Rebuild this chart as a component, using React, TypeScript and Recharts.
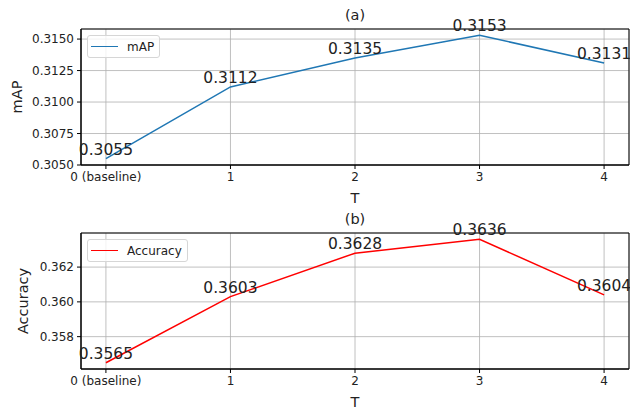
import { CartesianGrid, Label, LabelList, Legend, Line, LineChart, ReferenceArea, XAxis, YAxis } from 'recharts';

const categories = ['0 (baseline)', '1', '2', '3', '4'];
const mapValues = [0.3055, 0.3112, 0.3135, 0.3153, 0.3131];
const accuracyValues = [0.3565, 0.3603, 0.3628, 0.3636, 0.3604];
const mapTicks = [0.305, 0.3075, 0.31, 0.3125, 0.315];
const accuracyTicks = [0.358, 0.36, 0.362];
const mapDomain: [number, number] = [0.305, 0.3158];
const accuracyDomain: [number, number] = [0.35614, 0.36396];

const FONT = 'DejaVu Sans, sans-serif';
const xTicks = categories.map((_, i) => i);
const xDomain: [number, number] = [-0.2, 4.2];

interface PanelProps {
  title: string;
  yLabel: string;
  yLabelX: number;
  name: string;
  values: number[];
  ticks: number[];
  domain: [number, number];
  decimals: number;
  color: string;
  height: number;
  marginTop: number;
}

function Panel({ title, yLabel, yLabelX, name, values, ticks, domain, decimals, color, height, marginTop }: PanelProps) {
  const data = values.map((v, i) => ({ t: i, value: v }));
  return (
    <LineChart
      width={630}
      height={height}
      data={data}
      margin={{ top: marginTop, right: 1, bottom: 0, left: 0 }}
      style={{ fontFamily: FONT }}
    >
      <CartesianGrid stroke="#b0b0b0" strokeWidth={0.8} />
      <XAxis
        dataKey="t"
        type="number"
        domain={xDomain}
        ticks={xTicks}
        interval={0}
        tickFormatter={(i: number) => categories[i]}
        height={40}
        tickSize={4}
        tickMargin={3}
        axisLine={{ stroke: '#000' }}
        tickLine={{ stroke: '#000' }}
        tick={{ fontSize: 12, fill: '#222' }}
      >
        <Label
          content={({ viewBox }: any) => (
            <text
              x={viewBox.x + viewBox.width / 2}
              y={viewBox.y + 38}
              textAnchor="middle"
              fontSize={14.5}
              fill="#222"
            >
              T
            </text>
          )}
        />
      </XAxis>
      <YAxis
        type="number"
        domain={domain}
        ticks={ticks}
        interval={0}
        width={81}
        tickFormatter={(v: number) => v.toFixed(decimals)}
        tickSize={4}
        tickMargin={3}
        axisLine={{ stroke: '#000' }}
        tickLine={{ stroke: '#000' }}
        tick={{ fontSize: 12, fill: '#222' }}
      >
        <Label
          content={({ viewBox }: any) => {
            const cy = viewBox.y + viewBox.height / 2;
            return (
              <text
                x={yLabelX}
                y={cy}
                textAnchor="middle"
                dominantBaseline="central"
                fontSize={14.5}
                fill="#222"
                transform={`rotate(-90 ${yLabelX} ${cy})`}
              >
                {yLabel}
              </text>
            );
          }}
        />
      </YAxis>
      <ReferenceArea
        x1={xDomain[0]}
        x2={xDomain[1]}
        y1={domain[0]}
        y2={domain[1]}
        fill="none"
        stroke="#000"
        strokeWidth={1}
        ifOverflow="visible"
      />
      <text x={355} y={marginTop - 9} textAnchor="middle" fontSize={14.5} fill="#222">
        {title}
      </text>
      <Legend
        layout="horizontal"
        verticalAlign="middle"
        align="center"
        wrapperStyle={{ top: marginTop + 6, left: 87, width: 'auto' }}
        content={() => (
          <div
            style={{
              display: 'flex',
              alignItems: 'center',
              height: 21,
              padding: '0 5px 0 3px',
              border: '1px solid #d6d6d6',
              borderRadius: 3,
              background: 'rgba(255,255,255,0.8)',
              fontFamily: FONT,
              fontSize: 12,
              color: '#222',
            }}
          >
            <span style={{ display: 'inline-block', width: 27, borderTop: `1.5px solid ${color}`, marginRight: 9 }} />
            <span>{name}</span>
          </div>
        )}
      />
      <Line
        dataKey="value"
        name={name}
        stroke={color}
        strokeWidth={1.5}
        dot={false}
        isAnimationActive={false}
      >
        <LabelList
          dataKey="value"
          content={({ x, y, value }: any) => (
            <text x={x} y={y - 4} textAnchor="middle" fontSize={15.5} fill="#222">
              {Number(value).toFixed(4)}
            </text>
          )}
        />
      </Line>
    </LineChart>
  );
}

export default function App() {
  return (
    <div style={{ position: 'absolute', left: 0, top: 0, width: 630, height: 409, background: '#fff' }}>
      <Panel
        title="(a)"
        yLabel="mAP"
        yLabelX={17}
        name="mAP"
        values={mapValues}
        ticks={mapTicks}
        domain={mapDomain}
        decimals={4}
        color="#1f77b4"
        height={205}
        marginTop={29}
      />
      <Panel
        title="(b)"
        yLabel="Accuracy"
        yLabelX={23}
        name="Accuracy"
        values={accuracyValues}
        ticks={accuracyTicks}
        domain={accuracyDomain}
        decimals={3}
        color="#ff0000"
        height={204}
        marginTop={28}
      />
    </div>
  );
}
